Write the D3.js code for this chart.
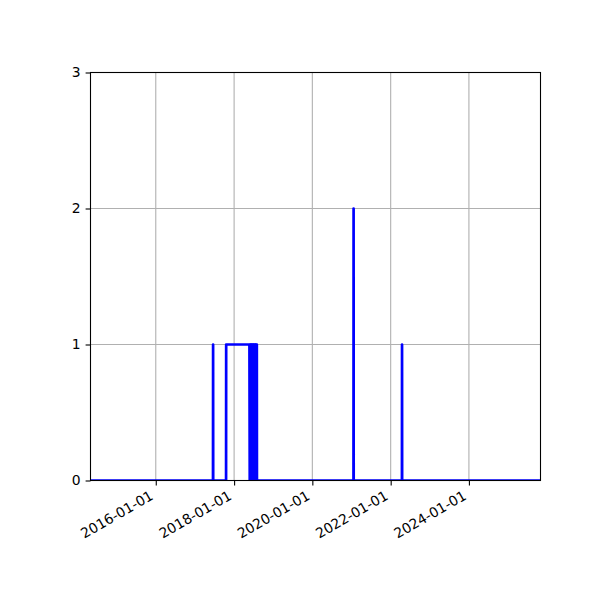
<!DOCTYPE html>
<html>
<head>
<meta charset="utf-8">
<script src="https://cdn.jsdelivr.net/npm/d3@7"></script>
<style>
  html, body { margin: 0; padding: 0; background: #fff; }
  svg { display: block; }
  text { font-family: "DejaVu Sans", sans-serif; font-size: 13.9px; fill: #000; }
</style>
</head>
<body>
<svg id="chart" width="600" height="600"></svg>
<script>
// ---- data ----
const dates = [
  "2014-05-02", "2017-06-18", "2017-06-19", "2017-06-20",
  "2017-10-18", "2017-10-19", "2018-05-24",
  "2018-05-27", "2018-05-30", "2018-06-02", "2018-06-05", "2018-06-08",
  "2018-06-11", "2018-06-14", "2018-06-17", "2018-06-20", "2018-06-23",
  "2018-06-26", "2018-06-29", "2018-07-02", "2018-07-05", "2018-07-08",
  "2018-07-11", "2018-07-14", "2018-07-17", "2018-07-20", "2018-07-23",
  "2018-07-26", "2018-07-29", "2018-08-01", "2018-08-02",
  "2021-01-19", "2021-01-20", "2021-01-21",
  "2022-04-16", "2022-04-17", "2022-04-18",
  "2025-10-30"
];
const values = [
  0, 0, 1, 0,
  0, 1, 1,
  0, 1, 0, 1, 0,
  1, 0, 1, 0, 1,
  0, 1, 0, 1, 0,
  1, 0, 1, 0, 1,
  0, 1, 1, 0,
  0, 2, 0,
  0, 1, 0,
  0
];
const xTickLabels = ["2016-01-01", "2018-01-01", "2020-01-01", "2022-01-01", "2024-01-01"];
const yTicks = [0, 1, 2, 3];
const xDomain = ["2014-05-02", "2025-10-30"];
const yDomain = [0, 3];

// ---- chart ----
(function () {
const parse = d3.utcParse("%Y-%m-%d");
const data = dates.map((d, i) => ({ date: parse(d), value: values[i] }));

const mLeft = 90.5, mRight = 540.5, mTop = 72.5, mBottom = 480.5;
const svg = d3.select("#chart");

const x = d3.scaleUtc().domain(xDomain.map(parse)).range([mLeft, mRight]);
const y = d3.scaleLinear().domain(yDomain).range([mBottom, mTop]);

const gridColor = "#b0b0b0";
const xTicks = xTickLabels.map(parse);

// grid
const grid = svg.append("g");
grid.selectAll("line.gx").data(xTicks).join("line").attr("class", "gx")
  .attr("x1", d => x(d)).attr("x2", d => x(d))
  .attr("y1", mTop).attr("y2", mBottom)
  .attr("stroke", gridColor).attr("stroke-width", 1.1);
grid.selectAll("line.gy").data(yTicks).join("line").attr("class", "gy")
  .attr("x1", mLeft).attr("x2", mRight)
  .attr("y1", d => y(d)).attr("y2", d => y(d))
  .attr("stroke", gridColor).attr("stroke-width", 1.1);

// clip
svg.append("clipPath").attr("id", "clip")
  .append("rect").attr("x", mLeft).attr("y", mTop)
  .attr("width", mRight - mLeft).attr("height", mBottom - mTop);

// line
const line = d3.line().x(d => x(d.date)).y(d => y(d.value));
svg.append("path")
  .datum(data)
  .attr("clip-path", "url(#clip)")
  .attr("d", line)
  .attr("fill", "none")
  .attr("stroke", "#0000ff")
  .attr("stroke-width", 2.7)
  .attr("stroke-linejoin", "round");

// axes
const xAxis = d3.axisBottom(x).tickValues(xTicks)
  .tickSize(4.9).tickPadding(4.9).tickFormat(d3.utcFormat("%Y-%m-%d"));
const gx = svg.append("g").attr("transform", `translate(0,${mBottom})`).call(xAxis);
gx.select(".domain").remove();
gx.selectAll(".tick line").attr("stroke", "#000").attr("stroke-width", 1.1);
gx.selectAll(".tick text")
  .attr("font-family", "DejaVu Sans").attr("font-size", 13.9)
  .attr("text-anchor", "end")
  .attr("dy", null)
  .attr("y", 0)
  .attr("transform", "translate(-2,18) rotate(-30)");

const yAxis = d3.axisLeft(y).tickValues(yTicks)
  .tickSize(4.9).tickPadding(4.9).tickFormat(d3.format("d"));
const gy = svg.append("g").attr("transform", `translate(${mLeft},0)`).call(yAxis);
gy.select(".domain").remove();
gy.selectAll(".tick line").attr("stroke", "#000").attr("stroke-width", 1.1);
gy.selectAll(".tick text")
  .attr("font-family", "DejaVu Sans").attr("font-size", 13.9);

// spines
svg.append("rect")
  .attr("x", mLeft).attr("y", mTop)
  .attr("width", mRight - mLeft).attr("height", mBottom - mTop)
  .attr("fill", "none").attr("stroke", "#000").attr("stroke-width", 1.1);
})();
</script>
</body>
</html>
